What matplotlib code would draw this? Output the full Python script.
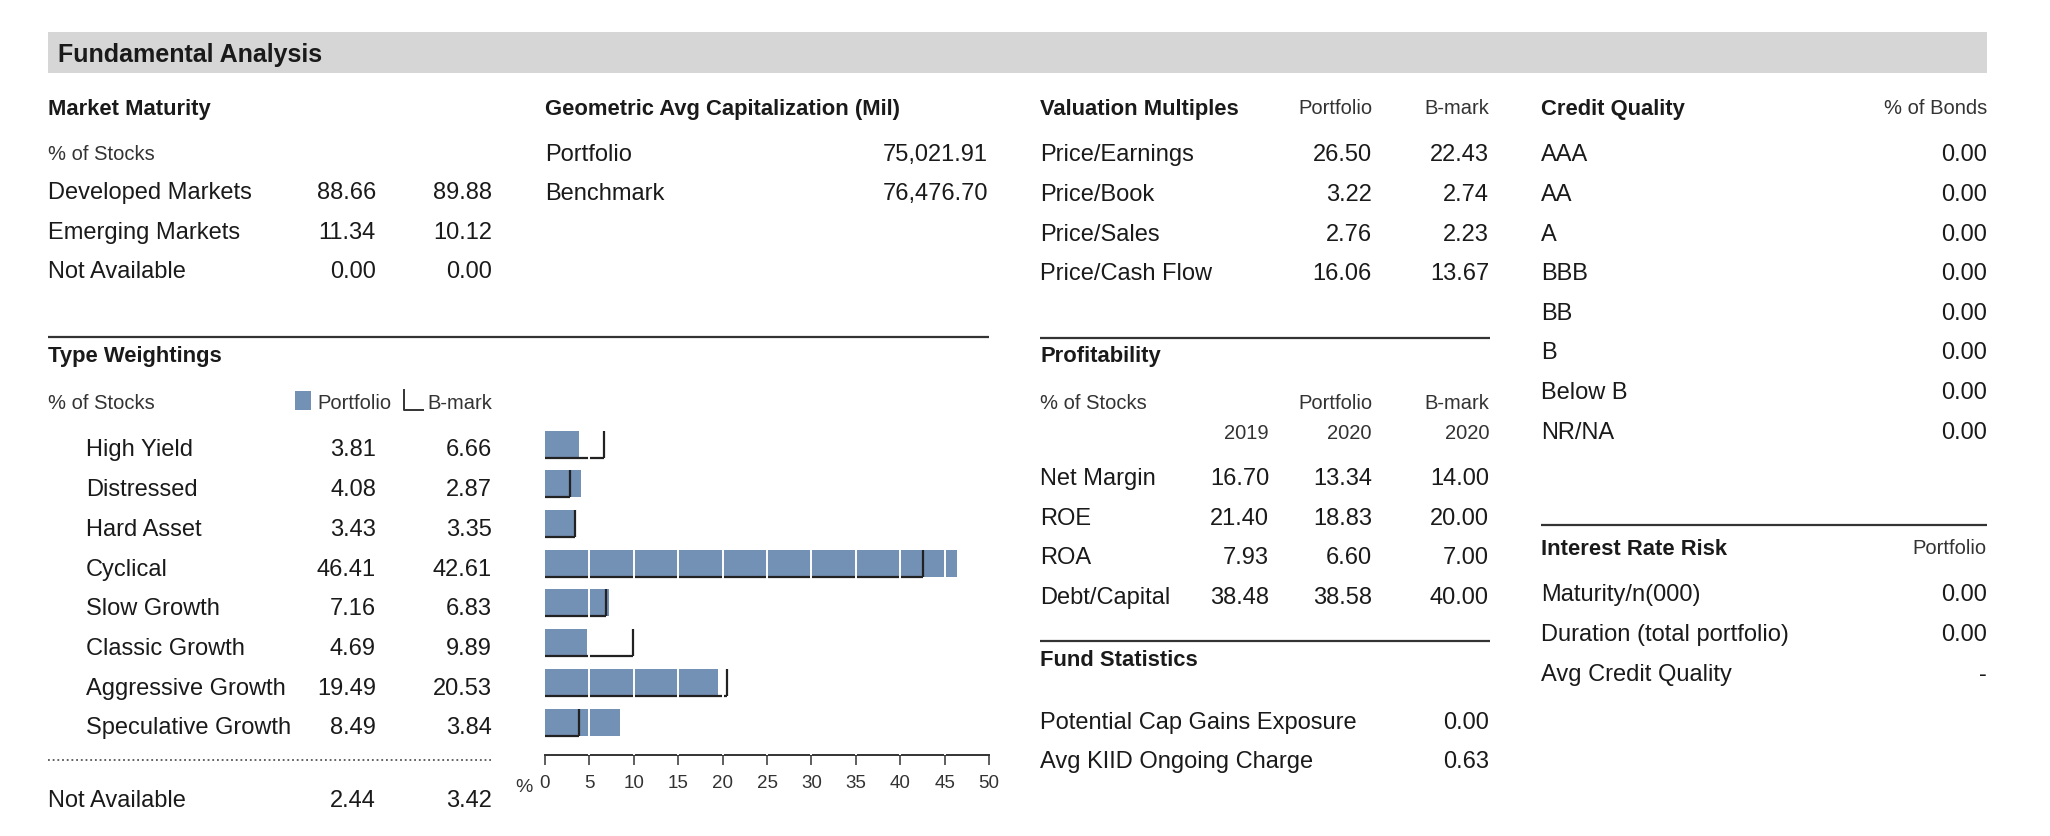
import numpy as np
import matplotlib.pyplot as plt
from matplotlib import font_manager
from matplotlib.patches import Rectangle

# fonts: regular text, condensed for headings / ticks if we have it
names = {f.name for f in font_manager.fontManager.ttflist}
BODY = "Liberation Sans"
HAVE_NARROW = "Liberation Sans Narrow" in names
NARROW = "Liberation Sans Narrow" if HAVE_NARROW else "Liberation Sans"

# ---- data ----
maturity_labels = ["Developed Markets", "Emerging Markets", "Not Available"]
maturity_port = [88.66, 11.34, 0.00]
maturity_bench = [89.88, 10.12, 0.00]

cap_labels = ["Portfolio", "Benchmark"]
cap_values = [75021.91, 76476.70]

valuation_labels = ["Price/Earnings", "Price/Book", "Price/Sales", "Price/Cash Flow"]
valuation_port = [26.50, 3.22, 2.76, 16.06]
valuation_bench = [22.43, 2.74, 2.23, 13.67]

credit_labels = ["AAA", "AA", "A", "BBB", "BB", "B", "Below B", "NR/NA"]
credit_values = [0.00, 0.00, 0.00, 0.00, 0.00, 0.00, 0.00, 0.00]

type_labels = ["High Yield", "Distressed", "Hard Asset", "Cyclical", "Slow Growth",
               "Classic Growth", "Aggressive Growth", "Speculative Growth"]
type_port = [3.81, 4.08, 3.43, 46.41, 7.16, 4.69, 19.49, 8.49]
type_bench = [6.66, 2.87, 3.35, 42.61, 6.83, 9.89, 20.53, 3.84]
type_na = [2.44, 3.42]
tick_values = [0, 5, 10, 15, 20, 25, 30, 35, 40, 45, 50]

profit_labels = ["Net Margin", "ROE", "ROA", "Debt/Capital"]
profit_2019 = [16.70, 21.40, 7.93, 38.48]
profit_2020 = [13.34, 18.83, 6.60, 38.58]
profit_bench_2020 = [14.00, 20.00, 7.00, 40.00]

fund_labels = ["Potential Cap Gains Exposure", "Avg KIID Ongoing Charge"]
fund_values = [0.00, 0.63]

rate_labels = ["Maturity/n(000)", "Duration (total portfolio)", "Avg Credit Quality"]
rate_values = ["0.00", "0.00", "-"]

BAR = "#7390b5"
INK = "#1a1a1a"
SUB = "#333333"

W, H = 2050, 837
fig = plt.figure(figsize=(W / 100, H / 100), dpi=100)
ax0 = fig.add_axes([0, 0, 1, 1])
ax0.set_xlim(0, W)
ax0.set_ylim(H, 0)
ax0.axis("off")


def txt(x, y, s, ha="left", size=17, bold=False, color=INK, family=BODY):
    # y is the visual middle of the capitals
    off = size * 100 / 72 * 0.716 / 2
    ax0.text(x, y + off, s, ha=ha, va="baseline", fontsize=size,
             fontweight="bold" if bold else "normal", color=color, family=family)


HEAD_SIZE = 18.5 if HAVE_NARROW else 15.8


def head(x, y, s):
    txt(x, y, s, size=HEAD_SIZE, bold=True, family=NARROW)


def rule(x0, x1, y):
    ax0.plot([x0, x1], [y, y], color="#333333", lw=1.6, solid_capstyle="butt")


# title band
ax0.add_patch(Rectangle((48, 33), 1939, 41, color="#d6d6d6", lw=0))
txt(58, 53, "Fundamental Analysis", size=21 if HAVE_NARROW else 18, bold=True, family=NARROW)

# market maturity
head(48, 107, "Market Maturity")
txt(48, 153, "% of Stocks", size=14.5, color=SUB)
for i, lab in enumerate(maturity_labels):
    y = 191 + i * 39.5
    txt(48, y, lab)
    txt(376, y, f"{maturity_port[i]:.2f}", ha="right")
    txt(492, y, f"{maturity_bench[i]:.2f}", ha="right")

# geometric avg cap
head(545, 107, "Geometric Avg Capitalization (Mil)")
for i, lab in enumerate(cap_labels):
    y = 153 + i * 39
    txt(545, y, lab)
    txt(988, y, f"{cap_values[i]:,.2f}", ha="right")

# valuation multiples
head(1040, 107, "Valuation Multiples")
txt(1372, 107, "Portfolio", ha="right", size=14.5, color=SUB)
txt(1489, 107, "B-mark", ha="right", size=14.5, color=SUB)
for i, lab in enumerate(valuation_labels):
    y = 153 + i * 39.6
    txt(1040, y, lab)
    txt(1372, y, f"{valuation_port[i]:.2f}", ha="right")
    txt(1489, y, f"{valuation_bench[i]:.2f}", ha="right")

# credit quality
head(1541, 107, "Credit Quality")
txt(1987, 107, "% of Bonds", ha="right", size=14.5, color=SUB)
for i, lab in enumerate(credit_labels):
    y = 153 + i * 39.6
    txt(1541, y, lab)
    txt(1987, y, f"{credit_values[i]:.2f}", ha="right")

# type weightings
rule(48, 989, 338)
head(48, 354, "Type Weightings")
txt(48, 402, "% of Stocks", size=14.5, color=SUB)
ax0.add_patch(Rectangle((295, 392), 16, 19, color=BAR, lw=0))
txt(317, 402, "Portfolio", size=14.5, color=SUB)
ax0.plot([404, 404, 423], [391, 411, 411], color="#333333", lw=1.4)
txt(427, 402, "B-mark", size=14.5, color=SUB)
for i, lab in enumerate(type_labels):
    y = 448 + i * 39.7
    txt(86, y, lab)
    txt(376, y, f"{type_port[i]:.2f}", ha="right")
    txt(492, y, f"{type_bench[i]:.2f}", ha="right")
ax0.plot([48, 491], [761, 761], color="#555555", lw=1.3, ls=(0, (1, 1.6)))
txt(48, 799, "Not Available")
txt(376, 799, f"{type_na[0]:.2f}", ha="right")
txt(492, 799, f"{type_na[1]:.2f}", ha="right")

# bar chart for type weightings
L, R, T, B = 545, 989, 425, 756
ax = fig.add_axes([L / W, 1 - B / H, (R - L) / W, (B - T) / H])
pos = np.arange(len(type_labels))
h = 0.68
ax.barh(pos, type_port, height=h, color=BAR, zorder=1)
ax.hlines(pos + h / 2, 0, type_bench, color="#222222", lw=1.6, zorder=2)
for t in tick_values[1:-1]:
    ax.axvline(t, color="white", lw=1.4, zorder=3)
ax.vlines(type_bench, pos - h / 2, pos + h / 2, color="#222222", lw=1.6, zorder=4)
ax.set_xlim(0, 50)
ax.set_ylim(7.83, -0.504)
ax.set_xticks(tick_values)
ax.set_xticklabels([str(t) for t in tick_values], family=NARROW,
                   fontsize=15 if HAVE_NARROW else 13.5, color=SUB)
ax.set_yticks([])
for s in ["top", "left", "right"]:
    ax.spines[s].set_visible(False)
ax.spines["bottom"].set_color("#333333")
ax.spines["bottom"].set_linewidth(1.4)
ax.tick_params(axis="x", direction="out", length=7, width=1.1, color="#333333", pad=7)
ax.patch.set_alpha(0)
txt(515, 785, "%", size=14, color=SUB, family=NARROW)

# profitability
rule(1040, 1490, 339)
head(1040, 354, "Profitability")
txt(1040, 402, "% of Stocks", size=14.5, color=SUB)
txt(1372, 402, "Portfolio", ha="right", size=14.5, color=SUB)
txt(1489, 402, "B-mark", ha="right", size=14.5, color=SUB)
txt(1269, 432, "2019", ha="right", size=14.5, color=SUB)
txt(1372, 432, "2020", ha="right", size=14.5, color=SUB)
txt(1489, 432, "2020", ha="right", size=14.5, color=SUB)
for i, lab in enumerate(profit_labels):
    y = 477 + i * 39.4
    txt(1040, y, lab)
    txt(1269, y, f"{profit_2019[i]:.2f}", ha="right")
    txt(1372, y, f"{profit_2020[i]:.2f}", ha="right")
    txt(1489, y, f"{profit_bench_2020[i]:.2f}", ha="right")

# fund statistics
rule(1040, 1490, 642)
head(1040, 658, "Fund Statistics")
for i, lab in enumerate(fund_labels):
    y = 721 + i * 39
    txt(1040, y, lab)
    txt(1489, y, f"{fund_values[i]:.2f}", ha="right")

# interest rate risk
rule(1541, 1987, 526)
head(1541, 547, "Interest Rate Risk")
txt(1987, 547, "Portfolio", ha="right", size=14.5, color=SUB)
for i, lab in enumerate(rate_labels):
    y = 593 + i * 40
    txt(1541, y, lab)
    txt(1987, y, rate_values[i], ha="right")

fig.savefig("out.png", dpi=100)
